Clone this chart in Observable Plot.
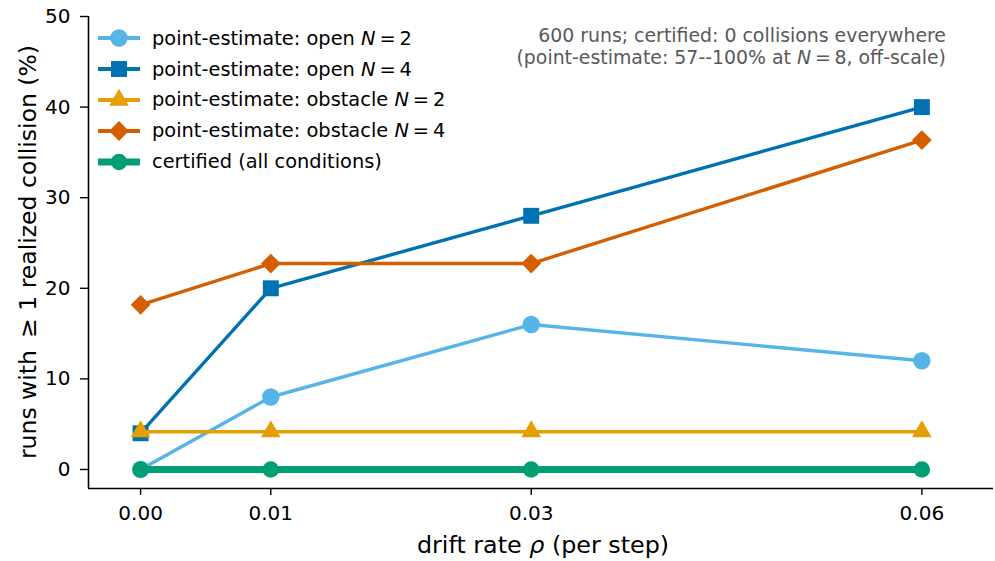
<!DOCTYPE html>
<html>
<head>
<meta charset="utf-8">
<script src="https://cdn.jsdelivr.net/npm/d3@7"></script>
<script src="https://cdn.jsdelivr.net/npm/@observablehq/plot@0.6"></script>
<style>
  body { margin: 0; background: #fff; }
  #wrap { position: relative; width: 995px; height: 561px; font-family: "DejaVu Sans", sans-serif; }
  #wrap svg.plot { position: absolute; left: 0; top: 0; }
  .ov { position: absolute; white-space: nowrap; line-height: normal; }
  .legend { position: absolute; left: 96px; top: 23px; font-size: 19.4px; color: #000; }
  .legend .row { display: flex; align-items: center; height: 30.8px; }
  .legend .row svg { width: 46px; height: 28px; margin-right: 10px; flex: none; }
  .note { position: absolute; right: 49px; top: 24px; text-align: right; font-size: 18.9px; color: #595959; line-height: 22px; white-space: nowrap; }
</style>
</head>
<body>
<div id="wrap"></div>
<script>
// ---- data ----
const rho = [0, 0.01, 0.03, 0.06];
const openN2 = [0, 8, 16, 12];
const openN4 = [4, 20, 28, 40];
const obstacleN2 = [4.17, 4.17, 4.17, 4.17];
const obstacleN4 = [18.18, 22.73, 22.73, 36.36];
const certified = [0, 0, 0, 0];

const seriesNames = [
  "point-estimate: open <i>N</i>\u2009=\u20092",
  "point-estimate: open <i>N</i>\u2009=\u20094",
  "point-estimate: obstacle <i>N</i>\u2009=\u20092",
  "point-estimate: obstacle <i>N</i>\u2009=\u20094",
  "certified (all conditions)"
];
const seriesValues = [openN2, openN4, obstacleN2, obstacleN4, certified];
const xTicks = [0, 0.01, 0.03, 0.06];
const yTicks = [0, 10, 20, 30, 40, 50];

// ---- styles ----
const colors = ["#56B4E9", "#0072B2", "#E69F00", "#D55E00", "#009E73"];
const symbols = ["circle", "square", "triangle", "diamond2", "circle"];
const radii = [8.7, 9, 7.3, 8.9, 8.2];
const widths = [3.4, 3.4, 3.4, 3.4, 7];
const xDomain = [-0.004, 0.0655];
const yDomain = [-2.1, 50];

const rows = seriesValues.map((vals, i) => vals.map((v, j) => ({s: i, x: rho[j], y: v})));

const marks = [];
rows.forEach((data, i) => {
  marks.push(Plot.line(data, {x: "x", y: "y", stroke: colors[i], strokeWidth: widths[i]}));
  marks.push(Plot.dot(data, {x: "x", y: "y", fill: colors[i], stroke: "none", symbol: () => symbols[i], r: radii[i]}));
});

const plot = Plot.plot({
  width: 995,
  height: 561,
  marginLeft: 88,
  marginRight: 2,
  marginTop: 16,
  marginBottom: 73,
  style: {fontFamily: "DejaVu Sans, sans-serif", fontSize: "20px", color: "#000", background: "#fff", overflow: "visible"},
  x: {domain: xDomain},
  y: {domain: yDomain},
  marks: [
    Plot.ruleX([xDomain[0]], {stroke: "#000", strokeWidth: 1.6}),
    Plot.ruleY([yDomain[0]], {stroke: "#000", strokeWidth: 1.6}),
    Plot.axisX({ticks: xTicks, tickFormat: d3.format(".2f"), tickSize: 7, tickPadding: 10, label: null, fontSize: 20, strokeWidth: 1.4}),
    Plot.axisY({ticks: yTicks, tickSize: 8, tickPadding: 10, label: null, fontSize: 20, strokeWidth: 1.4}),
    ...marks
  ]
});
plot.classList.add("plot");
const wrap = document.getElementById("wrap");
wrap.appendChild(plot);

// axis labels
const yl = document.createElement("div");
yl.className = "ov";
yl.style.cssText = "left:28px;top:252px;font-size:23.5px;transform:translate(-50%,-50%) rotate(-90deg);";
yl.innerHTML = "runs with \u2009\u2265 1 realized collision (%)";
wrap.appendChild(yl);

const xl = document.createElement("div");
xl.className = "ov";
xl.style.cssText = "left:543px;top:545px;font-size:23.8px;transform:translate(-50%,-50%);";
xl.innerHTML = "drift rate <i>\u03c1</i> (per step)";
wrap.appendChild(xl);

// legend
const leg = document.createElement("div");
leg.className = "legend";
const typeMap = {circle: d3.symbolCircle, square: d3.symbolSquare, triangle: d3.symbolTriangle, diamond2: d3.symbolDiamond2};
seriesNames.forEach((name, i) => {
  const row = document.createElement("div");
  row.className = "row";
  const path = d3.symbol(typeMap[symbols[i]], Math.PI * radii[i] * radii[i])();
  const lw = i === 4 ? 7 : 4;
  row.innerHTML = `<svg viewBox="0 0 46 28"><line x1="2" x2="44" y1="14" y2="14" stroke="${colors[i]}" stroke-width="${lw}"/><path transform="translate(23,14)" d="${path}" fill="${colors[i]}"/></svg><span>${name}</span>`;
  leg.appendChild(row);
});
wrap.appendChild(leg);

// note
const note = document.createElement("div");
note.className = "note";
note.innerHTML = "600 runs; certified: 0 collisions everywhere<br>(point-estimate: 57--100% at <i>N</i>\u2009=\u20098, off-scale)";
wrap.appendChild(note);
</script>
</body>
</html>
